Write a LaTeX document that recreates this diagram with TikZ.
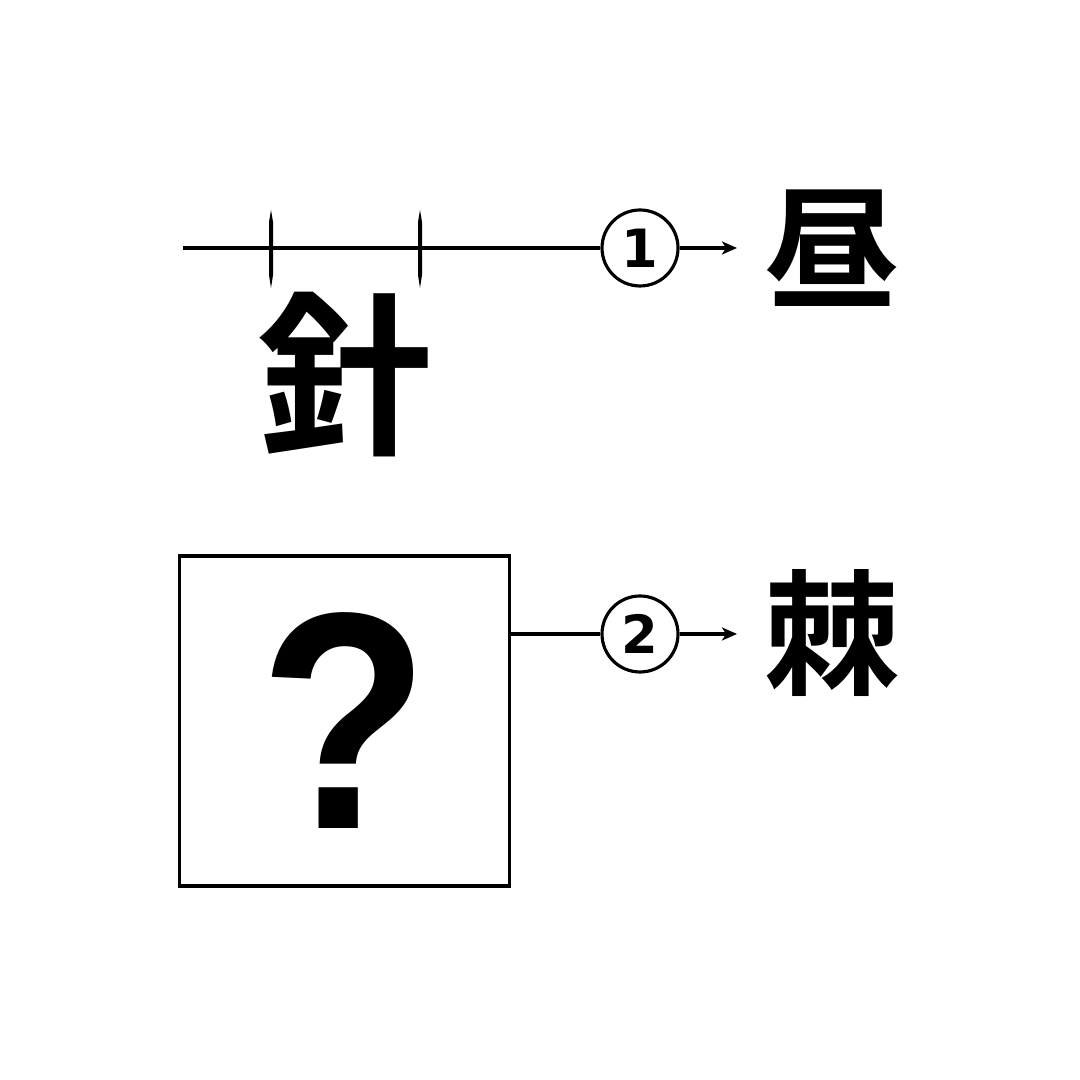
\documentclass[tikz,border=0pt]{standalone}
\usepackage{fontspec}
\newfontfamily\cjk{Noto Sans CJK JP Bold}
\newfontfamily\numfont{DejaVu Sans}
\newfontfamily\qfont{Liberation Sans}[FakeStretch=0.9]
\usetikzlibrary{arrows.meta}
\begin{document}
\begin{tikzpicture}[
    wire/.style={line width=0.9pt},
    numcircle/.style={circle, draw, line width=0.9pt, minimum size=0.76cm, inner sep=0pt, font=\numfont\bfseries\fontsize{15}{15}\selectfont},
    kanji/.style={inner sep=0pt, font=\cjk\fontsize{38.5}{38.5}\selectfont}
]
    \useasboundingbox (0,0) rectangle (10.8,10.8);

    % Top row: the needle line
    \coordinate (start1) at (1.83,8.32);
    \node[numcircle] (n1) at (6.40,8.32) {1};
    \coordinate (end1) at (7.37,8.32);
    \draw[wire] (start1) -- (n1);
    \draw[wire, -{Stealth[length=0.15cm, width=0.13cm, inset=0.04cm]}] (n1) -- (end1);

    % Needle marks on the line
    \foreach \x in {2.71, 4.20}
        \fill (\x,8.70) -- (\x+0.02,8.58) -- (\x+0.02,8.05) -- (\x,7.92) -- (\x-0.02,8.05) -- (\x-0.02,8.58) -- cycle;

    % Result of step 1
    \node[kanji] (hiru) at (8.32,8.32) {昼};

    % The big kanji below the line
    \node[kanji, font=\cjk\fontsize{50}{50}\selectfont] (hari) at (3.45,7.05) {針};

    % Bottom row: the unknown box
    \node[draw, line width=1pt, minimum size=3.30cm, inner sep=0pt, font=\qfont\bfseries\fontsize{88}{88}\selectfont] (box) at (3.445,3.59) {?};
    \node[numcircle] (n2) at (6.40,4.46) {2};
    \coordinate (end2) at (7.37,4.46);
    \draw[wire] (box.east |- n2) -- (n2);
    \draw[wire, -{Stealth[length=0.15cm, width=0.13cm, inset=0.04cm]}] (n2) -- (end2);

    % Result of step 2
    \node[kanji] (toge) at (8.32,4.47) {棘};

\end{tikzpicture}
\end{document}
